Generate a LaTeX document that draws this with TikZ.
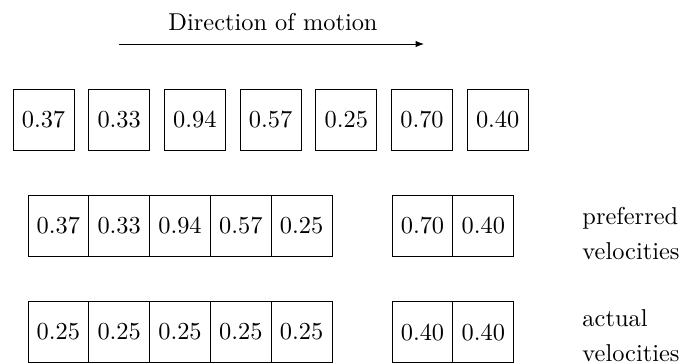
\documentclass[tikz,border=0pt]{standalone}
\usetikzlibrary{arrows.meta}
\begin{document}
\begin{tikzpicture}[x=0.41pt,y=-0.41pt,
  cell/.style={draw, inner sep=0pt, minimum width=25pt, minimum height=25pt},
  rowcell/.style={draw, inner sep=0pt, minimum width=24.93pt, minimum height=25pt},
  lbl/.style={anchor=west, align=left, inner sep=0pt}]
\useasboundingbox (0,0) rectangle (681,363);
% title and arrow
\node (title) at (273,22) {Direction of motion};
\coordinate (a1) at (119,44);
\coordinate (a2) at (424,44);
\draw[-{Latex[length=3.4pt,width=2.6pt]}] (a1) -- (a2);
% top row
\node[cell] (t1) at (43.5,119.5) {0.37};
\node[cell] (t2) at (119.2,119.5) {0.33};
\node[cell] (t3) at (194.9,119.5) {0.94};
\node[cell] (t4) at (270.6,119.5) {0.57};
\node[cell] (t5) at (346.3,119.5) {0.25};
\node[cell] (t6) at (422,119.5) {0.70};
\node[cell] (t7) at (497.7,119.5) {0.40};
% middle row
\node[rowcell] (m1) at (58.4,225.5) {0.37};
\node[rowcell] (m2) at (119.2,225.5) {0.33};
\node[rowcell] (m3) at (180,225.5) {0.94};
\node[rowcell] (m4) at (240.8,225.5) {0.57};
\node[rowcell] (m5) at (301.6,225.5) {0.25};
\node[rowcell] (m6) at (422.5,225.5) {0.70};
\node[rowcell] (m7) at (483.3,225.5) {0.40};
% bottom row
\node[rowcell] (b1) at (58.4,332) {0.25};
\node[rowcell] (b2) at (119.2,332) {0.25};
\node[rowcell] (b3) at (180,332) {0.25};
\node[rowcell] (b4) at (240.8,332) {0.25};
\node[rowcell] (b5) at (301.6,332) {0.25};
\node[rowcell] (b6) at (422.5,332) {0.40};
\node[rowcell] (b7) at (483.3,332) {0.40};
% labels
\node[lbl] (lp) at (582,233.5) {preferred\\[2.5pt]velocities};
\node[lbl] (la) at (582,335.5) {actual\\[2.5pt]velocities};
\end{tikzpicture}
\end{document}
